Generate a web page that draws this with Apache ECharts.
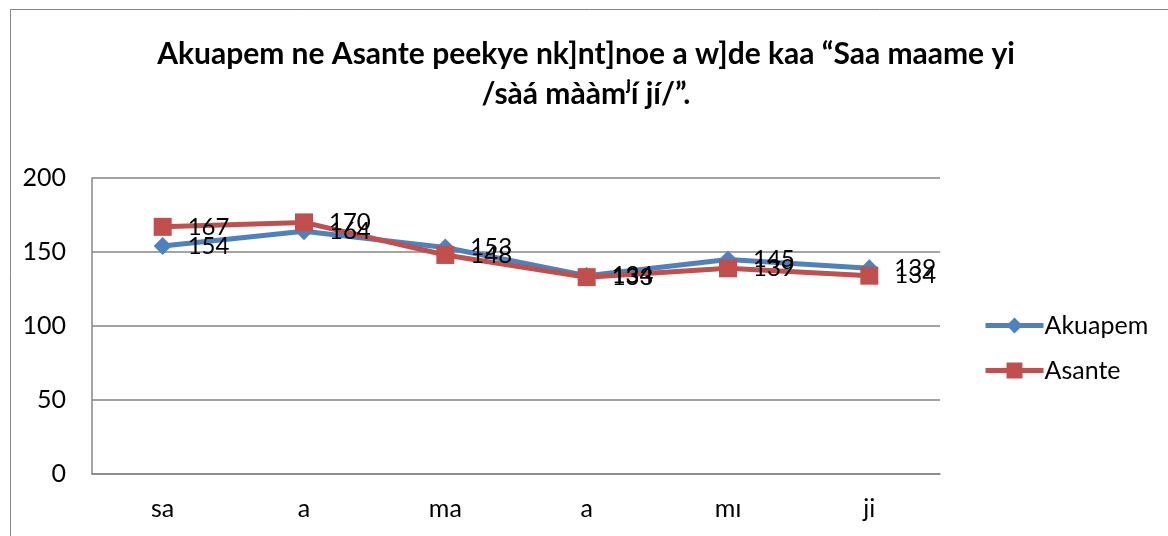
<!DOCTYPE html>
<html>
<head>
<meta charset="utf-8">
<script src="https://cdn.jsdelivr.net/npm/echarts@6/dist/echarts.min.js"></script>
<style>
  html, body { margin: 0; padding: 0; background: #fff; }
  #chart { width: 1168px; height: 536px; }
</style>
</head>
<body>
<div id="chart"></div>
<script>
  // syllables on the x axis
  var syllables = ["sa", "a", "ma", "a", "mɪ", "ji"];
  var akuapem = [154, 164, 153, 134, 145, 139];
  var asante = [167, 170, 148, 133, 139, 134];
  var yTicks = { min: 0, max: 200, step: 50 };

  var FONT = "Lato, 'Open Sans', 'Noto Sans', sans-serif";
  var BLUE = "#4F81BD", RED = "#C0504D";

  function lineSeries(name, data, color, symbol, size) {
    return {
      name: name, type: "line", data: data,
      symbol: symbol, symbolSize: size,
      lineStyle: { width: 5, color: color },
      itemStyle: { color: color },
      label: {
        show: true, position: "right", distance: 16,
        color: "#000", fontSize: 24, fontFamily: FONT
      }
    };
  }

  var chart = echarts.init(document.getElementById("chart"), null, { renderer: "canvas" });
  chart.setOption({
    animation: false,
    graphic: [{
      type: "rect", left: 8, top: 7, silent: true,
      shape: { width: 1200, height: 560 },
      style: { fill: "none", stroke: "#868686", lineWidth: 1 }
    }],
    title: {
      text: "Akuapem ne Asante peekye nk]nt]noe a w]de kaa “Saa maame yi\n/sàá mààmʲɪ́ jí/”.",
      left: 581, top: 29, textAlign: "center",
      textStyle: { fontFamily: FONT, fontWeight: "bold", fontSize: 30, color: "#000", lineHeight: 40 }
    },
    legend: {
      orient: "vertical", left: 978, top: 308, itemGap: 20,
      itemWidth: 58, itemHeight: 20,
      lineStyle: { width: 5 },
      textStyle: { fontFamily: FONT, fontSize: 25, color: "#000", padding: [0, 0, 0, -4] },
      data: ["Akuapem", "Asante"]
    },
    grid: { left: 92, right: 228, top: 178, bottom: 62 },
    xAxis: {
      type: "category", data: syllables, boundaryGap: true,
      axisLine: { lineStyle: { color: "#868686", width: 1.5 } },
      axisTick: { show: false },
      axisLabel: { color: "#000", fontSize: 25, fontFamily: FONT, margin: 22 }
    },
    yAxis: {
      type: "value", min: yTicks.min, max: yTicks.max, interval: yTicks.step,
      axisLine: { show: true, lineStyle: { color: "#868686", width: 1.5 } },
      axisTick: { show: false },
      splitLine: { lineStyle: { color: "#868686", width: 1.5 } },
      axisLabel: { color: "#000", fontSize: 25, fontFamily: FONT, margin: 26 }
    },
    series: [
      lineSeries("Akuapem", akuapem, BLUE, "diamond", 18),
      lineSeries("Asante", asante, RED, "rect", 18)
    ]
  });
</script>
</body>
</html>
